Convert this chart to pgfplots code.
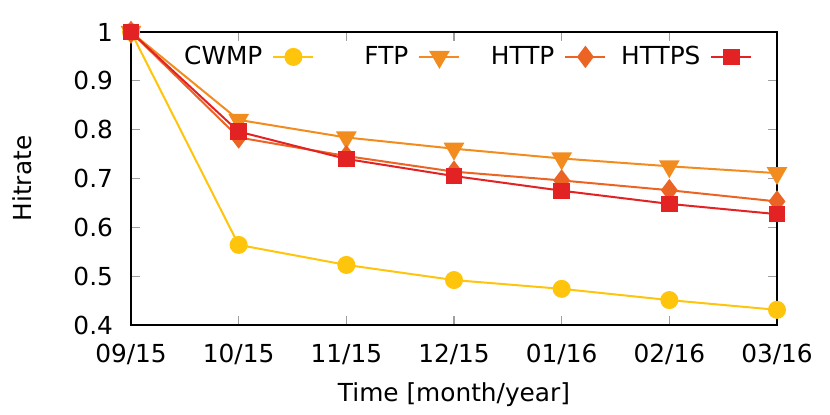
\documentclass[border=0pt]{standalone}
\usepackage{fontspec}
\setmainfont{DejaVu Sans}
\usepackage{pgfplots}
\pgfplotsset{compat=1.18}

\definecolor{cwmp}{RGB}{255,196,12}
\definecolor{ftp}{RGB}{242,140,30}
\definecolor{http}{RGB}{235,100,35}
\definecolor{https}{RGB}{227,35,35}

\begin{document}
\begin{tikzpicture}[font=\fontsize{12.4}{14.8}\selectfont]
\useasboundingbox (0,0) rectangle (415pt,207.5pt);
\begin{axis}[
  at={(65.5pt,45pt)}, anchor=south west,
  scale only axis,
  width=323pt, height=146.5pt,
  xmin=0, xmax=6, ymin=0.4, ymax=1,
  xtick={0,...,6},
  xticklabels={09/15,10/15,11/15,12/15,01/16,02/16,03/16},
  ytick={0.4,0.5,...,1.0},
  /pgf/number format/fixed,
  /pgf/number format/precision=1,
  /pgf/number format/assume math mode=true,
  xticklabel style={yshift=-6pt},
  yticklabel style={xshift=-5.5pt},
  tick align=inside,
  major tick length=4.5pt,
  major tick style={gray!75, line width=0.6pt},
  axis line style={line width=0.6pt},
  clip=false,
  xlabel={Time [month/year]},
  ylabel={Hitrate},
  xlabel style={at={(axis description cs:0.5,-0.239)}, anchor=center},
  ylabel style={at={(axis description cs:-0.1687,0.5)}, anchor=center},
  legend columns=4,
  legend plot pos=right,
  legend style={draw=none, fill=none, inner sep=0pt,
    at={(axis description cs:0.079,0.915)}, anchor=west,
    nodes={text width=40pt, align=right, inner xsep=0pt},
    /tikz/every odd column/.append style={column sep=5pt},
    /tikz/every even column/.append style={column sep=7pt}},
  legend image code/.code={
    \draw[mark repeat=2,mark phase=2,#1] plot coordinates {(0pt,0pt) (10pt,0pt) (20pt,0pt)};
  },
  every axis plot/.append style={line width=1pt},
]
\addplot[color=cwmp, mark=*, mark size=4pt] coordinates {
  (0,1.0) (1,0.564) (2,0.523) (3,0.492) (4,0.474) (5,0.451) (6,0.431)
};
\addplot[color=ftp, mark=triangle*, mark size=5pt, mark options={rotate=180}] coordinates {
  (0,1.0) (1,0.820) (2,0.784) (3,0.761) (4,0.741) (5,0.725) (6,0.711)
};
\addplot[color=http, mark=diamond*, mark size=4.8pt] coordinates {
  (0,1.0) (1,0.784) (2,0.746) (3,0.714) (4,0.696) (5,0.676) (6,0.653)
};
\addplot[color=https, mark=square*, mark size=3.6pt] coordinates {
  (0,1.0) (1,0.796) (2,0.740) (3,0.705) (4,0.675) (5,0.648) (6,0.627)
};
\legend{CWMP,FTP,HTTP,HTTPS}
\end{axis}
\end{tikzpicture}
\end{document}
